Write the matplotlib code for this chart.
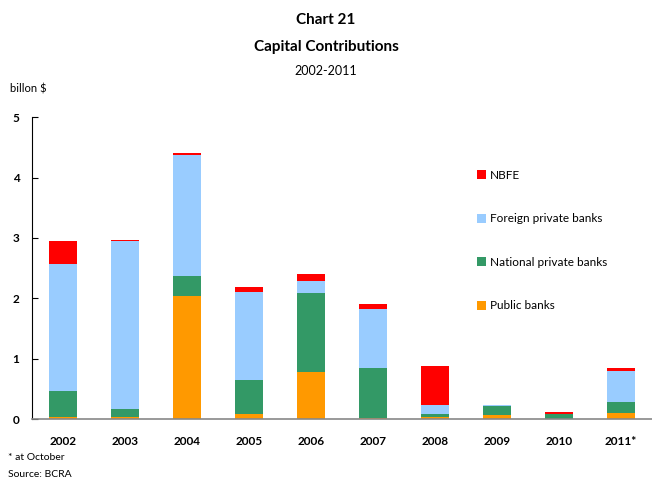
import matplotlib
matplotlib.use('Agg')
import matplotlib.pyplot as plt
import numpy as np

years = ['2002', '2003', '2004', '2005', '2006', '2007', '2008', '2009', '2010', '2011*']
public_banks = [0.03, 0.03, 2.03, 0.09, 0.78, 0.01, 0.03, 0.07, 0.00, 0.10]
national_private = [0.44, 0.14, 0.34, 0.56, 1.31, 0.83, 0.06, 0.14, 0.09, 0.19]
foreign_private = [2.09, 2.78, 2.01, 1.46, 0.20, 0.98, 0.14, 0.02, 0.00, 0.51]
nbfe = [0.39, 0.02, 0.02, 0.08, 0.12, 0.08, 0.65, 0.01, 0.03, 0.04]

plt.rcParams['font.family'] = ['Lato', 'DejaVu Sans']

fig = plt.figure(figsize=(6.52, 4.8), dpi=100)
ax = fig.add_axes([0.049, 0.127, 0.951, 0.629])

x = np.arange(len(years))
w = 0.45
b1 = np.array(public_banks)
b2 = b1 + np.array(national_private)
b3 = b2 + np.array(foreign_private)
h_pub = ax.bar(x, public_banks, w, color='#FF9900', label='Public banks')
h_nat = ax.bar(x, national_private, w, bottom=b1, color='#339966', label='National private banks')
h_for = ax.bar(x, foreign_private, w, bottom=b2, color='#99CCFF', label='Foreign private banks')
h_nb = ax.bar(x, nbfe, w, bottom=b3, color='#FF0000', label='NBFE')

ax.set_xlim(-0.5, 9.5)
ax.set_ylim(0, 5)
ax.set_yticks([0, 1, 2, 3, 4, 5])
ax.set_xticks(x)
ax.set_xticklabels(years, fontweight='bold', fontsize=8.5)
for lab in ax.get_yticklabels():
    lab.set_fontweight('bold')
    lab.set_fontsize(8.5)
ax.tick_params(axis='y', direction='in', length=4, pad=9)
ax.tick_params(axis='x', length=0, pad=12)
for s in ['top', 'right']:
    ax.spines[s].set_visible(False)
ax.spines['bottom'].set_color('#888888')
ax.spines['bottom'].set_linewidth(1.2)

ax.legend(handles=[h_nb, h_for, h_nat, h_pub], loc='upper left', bbox_to_anchor=(0.7, 0.86),
          frameon=False, fontsize=8.5, handlelength=0.8, handleheight=0.8,
          handletextpad=0.3, labelspacing=2.75)

fig.text(0.5, 0.958, 'Chart 21', ha='center', va='center', fontsize=11, fontweight='bold')
fig.text(0.5, 0.902, 'Capital Contributions', ha='center', va='center', fontsize=11, fontweight='bold')
fig.text(0.5, 0.852, '2002-2011', ha='center', va='center', fontsize=9)
fig.text(0.015, 0.815, 'billon $', ha='left', va='center', fontsize=8)
fig.text(0.012, 0.046, '* at October', ha='left', va='center', fontsize=7.5)
fig.text(0.012, 0.011, 'Source: BCRA', ha='left', va='center', fontsize=7.5)

fig.savefig('out.png', dpi=100)
